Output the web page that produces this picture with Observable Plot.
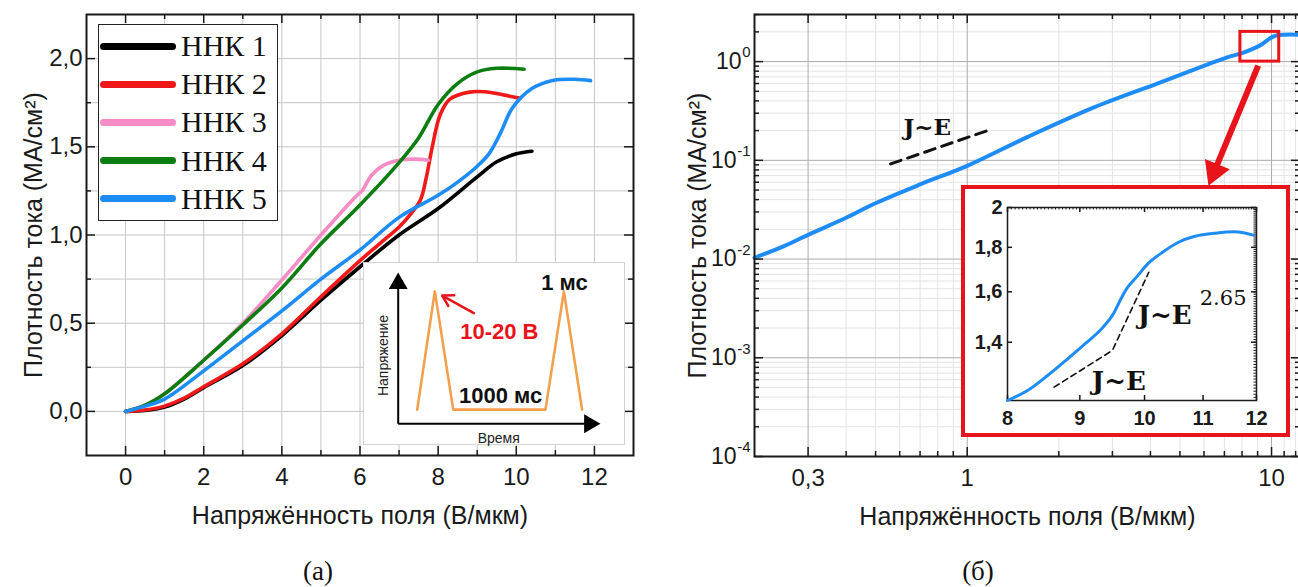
<!DOCTYPE html>
<html><head><meta charset="utf-8">
<script src="https://cdn.jsdelivr.net/npm/d3@7"></script>
<script src="https://cdn.jsdelivr.net/npm/@observablehq/plot@0.6"></script>
<style>
body{margin:0;background:#fff}
#root{position:relative;width:1298px;height:587px;overflow:hidden;background:#fff;font-family:"Liberation Sans",Arial,sans-serif;color:#1a1a1a}
</style></head><body><div id="root"></div>
<script>
// ---------- data: panel (а) ----------
const seriesNames = ["ННК 1","ННК 2","ННК 3","ННК 4","ННК 5"];
const seriesColors = ["#000000","#f01818","#f58cc4","#0c7d10","#1e8cf5"];
const nnk1E = [0, 0.5, 1, 1.5, 2, 3, 4, 5, 6, 7, 8, 9, 9.5, 10, 10.4];
const nnk1J = [0, 0.005, 0.025, 0.07, 0.135, 0.26, 0.43, 0.63, 0.82, 1.0, 1.15, 1.33, 1.415, 1.46, 1.475];
const nnk2E = [0, 0.5, 1, 1.5, 2, 3, 4, 5, 6, 6.5, 7, 7.3, 7.55, 7.7, 7.85, 8.05, 8.3, 8.8, 9.2, 9.65, 10.1];
const nnk2J = [0, 0.008, 0.03, 0.075, 0.14, 0.27, 0.44, 0.65, 0.855, 0.95, 1.045, 1.12, 1.2, 1.33, 1.5, 1.68, 1.77, 1.81, 1.812, 1.795, 1.775];
const nnk3E = [0, 0.5, 1, 2, 3, 4, 5, 5.9, 6.05, 6.3, 6.6, 7.0, 7.4, 7.75];
const nnk3J = [0, 0.035, 0.1, 0.29, 0.5, 0.745, 1.0, 1.22, 1.25, 1.34, 1.395, 1.424, 1.43, 1.424];
const nnk4E = [0, 0.5, 1, 2, 3, 4, 5, 6, 7, 7.5, 8, 8.5, 9, 9.5, 10.2];
const nnk4J = [0, 0.035, 0.1, 0.29, 0.49, 0.7, 0.95, 1.17, 1.41, 1.55, 1.74, 1.86, 1.925, 1.945, 1.94];
const nnk5E = [0, 0.5, 1, 2, 3, 4, 5, 6, 7, 8, 8.5, 9, 9.3, 9.6, 9.9, 10.4, 10.9, 11.5, 11.9];
const nnk5J = [0, 0.03, 0.07, 0.23, 0.4, 0.57, 0.75, 0.915, 1.1, 1.225, 1.3, 1.39, 1.46, 1.58, 1.72, 1.83, 1.875, 1.883, 1.875];
const fieldTicksA = [0, 2, 4, 6, 8, 10, 12];
const fieldMinorA = [1, 3, 5, 7, 9, 11];
const fieldGridA = [0,1,2,3,4,5,6,7,8,9,10,11,12];
const densTicksA = [0, 0.5, 1, 1.5, 2];
const densMinorA = [0.25, 0.75, 1.25, 1.75];
const densGridA = [0,0.25,0.5,0.75,1,1.25,1.5,1.75,2];

// pulse schematic (inset of panel а)
const pulseT = [0.94, 1.81, 2.72, 7.28, 8.19, 9.09];
const pulseV = [0, 1, 0, 0, 1, 0];
const pulseLabels = [
  {t: 8.22, v: 1.075, text: "1 мс", color: "#111"},
  {t: 5.0, v: 0.661, text: "10-20 В", color: "#e8141b"},
  {t: 5.06, v: 0.119, text: "1000 мс", color: "#111"}
];
const pulseArrow = {t1: 3.74, v1: 0.816, t2: 2.17, v2: 0.965};

// ---------- data: panel (б) ----------
const logE = [0.2, 0.25, 0.305, 0.4, 0.493, 0.7, 1, 1.575, 2.61, 4.32, 7.15, 8.0, 8.75, 9.3, 9.7, 10.0, 10.44, 11.0, 12.2];
const logJ = [0.0103, 0.0135, 0.018, 0.0262, 0.0361, 0.057, 0.088, 0.172, 0.344, 0.617, 1.105, 1.22, 1.36, 1.5, 1.65, 1.76, 1.85, 1.875, 1.875];
const fieldTicksB = [0.3, 1, 10];
const fieldMinorB = [0.4,0.5,0.6,0.7,0.8,0.9,2,3,4,5,6,7,8,9,11,12];
const decadesB = [1e-4, 1e-3, 1e-2, 1e-1, 1];
const decadeExpB = ["-4","-3","-2","-1","0"];
const densMinorB = [2e-4,3e-4,4e-4,5e-4,6e-4,7e-4,8e-4,9e-4,2e-3,3e-3,4e-3,5e-3,6e-3,7e-3,8e-3,9e-3,
  0.02,0.03,0.04,0.05,0.06,0.07,0.08,0.09,0.2,0.3,0.4,0.5,0.6,0.7,0.8,0.9,2,3];
const slopeLineE = [0.56, 1.21];
const slopeLineJ = [0.092, 0.208];
const slopeLabel = {E: 0.739, J: 0.216, text: "J~E"};
const zoomBox = {E1: 7.9, E2: 10.6, J1: 1, J2: 2};
const bigArrow = {E1: 9.04, J1: 0.91, E2: 6.49, J2: 0.0773};

// inset of panel б
const insetE = [8, 8.265, 8.54, 8.82, 9.11, 9.30, 9.49, 9.62, 9.73, 9.89, 10.06, 10.28, 10.56, 10.84, 11.20, 11.64, 11.94];
const insetJ = [1.2, 1.232, 1.282, 1.339, 1.401, 1.444, 1.503, 1.569, 1.62, 1.67, 1.725, 1.773, 1.823, 1.852, 1.868, 1.875, 1.859];
const insetTicksE = [8, 9, 10, 11, 12];
const insetTicksJ = [1.4, 1.6, 1.8, 2];
const linFitE = [8.63, 9.49];
const linFitJ = [1.243, 1.37];
const powFitE = [9.5, 10.07];
const powFitJ = [1.375, 1.685];

const SANS = "Liberation Sans, Arial, sans-serif";
const SERIF = "Liberation Serif, Times New Roman, serif";
const MATH = "DejaVu Serif, serif";
const INK = "#1a1a1a";
const RED = "#e8141b";
const xTitle = "Напряжённость поля (В/мкм)";
const yTitle = "Плотность тока (МА/см²)";
const comma = d => String(d).replace(".", ",");
const TICK_FS = 24, TITLE_FS = 25;

const root = document.getElementById("root");
function place(el, left, top, w, h, css = "") {
  const d = document.createElement("div");
  d.style.cssText = `position:absolute;left:${left}px;top:${top}px;width:${w}px;height:${h}px;${css}`;
  if (el) d.appendChild(el);
  root.appendChild(d);
  return d;
}
function xTicks(vals, len, fh, sides = ["bottom","top"], sw = 1.5) {
  const m = [];
  if (sides.includes("bottom")) m.push(Plot.tickX(vals, {x: d => d, insetTop: fh - len, stroke: INK, strokeWidth: sw}));
  if (sides.includes("top")) m.push(Plot.tickX(vals, {x: d => d, insetBottom: fh - len, stroke: INK, strokeWidth: sw}));
  return m;
}
function yTicks(vals, len, fw, sides = ["left","right"], sw = 1.5) {
  const m = [];
  if (sides.includes("left")) m.push(Plot.tickY(vals, {y: d => d, insetRight: fw - len, stroke: INK, strokeWidth: sw}));
  if (sides.includes("right")) m.push(Plot.tickY(vals, {y: d => d, insetLeft: fw - len, stroke: INK, strokeWidth: sw}));
  return m;
}
const baseStyle = {fontFamily: SANS, color: INK, background: "transparent", maxWidth: "none", overflow: "visible"};

// ---------- panel (а) ----------
const seriesE = [nnk1E, nnk2E, nnk3E, nnk4E, nnk5E];
const seriesJ = [nnk1J, nnk2J, nnk3J, nnk4J, nnk5J];
const tableA = seriesNames.flatMap((name, k) => seriesE[k].map((e, i) => ({name, E: e, J: seriesJ[k][i]})));

const A = {W: 660, H: 545, mt: 14, mb: 90, ml: 86, mr: 27};
const fhA = A.H - A.mt - A.mb, fwA = A.W - A.ml - A.mr;
const plotA = Plot.plot({
  width: A.W, height: A.H, marginTop: A.mt, marginBottom: A.mb, marginLeft: A.ml, marginRight: A.mr,
  style: {...baseStyle, fontSize: TICK_FS + "px"},
  x: {domain: [-1, 13]}, y: {domain: [-0.25, 2.25]},
  color: {domain: seriesNames, range: seriesColors},
  marks: [
    Plot.gridX({ticks: fieldGridA, stroke: "#c6c6c6", strokeOpacity: 1}),
    Plot.gridY({ticks: densGridA, stroke: "#c6c6c6", strokeOpacity: 1}),
    Plot.line(tableA, {x: "E", y: "J", z: "name", stroke: "name", strokeWidth: 3.6, curve: "catmull-rom", strokeLinecap: "round"}),
    ...xTicks(fieldTicksA, 9, fhA), ...xTicks(fieldMinorA, 5, fhA),
    ...yTicks(densTicksA, 9, fwA), ...yTicks(densMinorA, 5, fwA),
    Plot.frame({stroke: INK, strokeWidth: 2}),
    Plot.axisX({ticks: fieldTicksA, tickSize: 0, tickPadding: 12, label: null, fontSize: TICK_FS, tickFormat: comma}),
    Plot.axisY({ticks: densTicksA, tickSize: 0, tickPadding: 4, label: null, fontSize: TICK_FS, tickFormat: d => d.toFixed(1).replace(".", ",")}),
    Plot.text([xTitle], {text: d => d, frameAnchor: "bottom", textAnchor: "middle", lineAnchor: "middle", dy: 60, fontSize: TITLE_FS, fill: INK}),
    Plot.text([yTitle], {text: d => d, frameAnchor: "left", textAnchor: "middle", lineAnchor: "middle", dx: -53, rotate: -90, fontSize: TITLE_FS, fill: INK})
  ]
});
place(plotA, 0, 0, A.W, A.H);

// legend (HTML overlay)
const leg = place(null, 98, 24, 180, 197, "box-sizing:border-box;border:1.5px solid #222;background:#fff;");
seriesNames.forEach((name, i) => {
  const cy = 22.7 + i * 38.1;
  const ln = document.createElement("div");
  ln.style.cssText = `position:absolute;left:1px;top:${cy - 3.5 - 1.5}px;width:76px;height:7px;border-radius:3.5px;background:${seriesColors[i]};`;
  const tx = document.createElement("div");
  tx.style.cssText = `position:absolute;left:82px;top:${cy - 16.5}px;font:30px/30px ${SERIF};color:#111;white-space:nowrap;`;
  tx.textContent = name;
  leg.appendChild(ln); leg.appendChild(tx);
});

// inset of panel (а): pulse schematic
const pulseTable = pulseT.map((t, i) => ({t, v: pulseV[i]}));
const plotA2 = Plot.plot({
  width: 260, height: 181, marginLeft: 33.7, marginRight: 24, marginTop: 9, marginBottom: 20.7,
  style: {...baseStyle, fontSize: "14px"},
  x: {domain: [0, 10], axis: null}, y: {domain: [-0.12, 1.16], axis: null},
  marks: [
    Plot.link([{t1: 0, v1: -0.12, t2: 0, v2: 1.07}, {t1: 0, v1: -0.12, t2: 9.45, v2: -0.12}],
      {x1: "t1", y1: "v1", x2: "t2", y2: "v2", stroke: "#000", strokeWidth: 2}),
    Plot.dot([{t: 0, v: 1.067, r: 0}, {t: 9.46, v: -0.12, r: 90}],
      {x: "t", y: "v", rotate: "r", symbol: "triangle", r: 7, fill: "#000", stroke: "none"}),
    Plot.line(pulseTable, {x: "t", y: "v", stroke: "#f2a04e", strokeWidth: 2.6}),
    Plot.arrow([pulseArrow], {x1: "t1", y1: "v1", x2: "t2", y2: "v2", stroke: RED, strokeWidth: 2.5, headLength: 10}),
    Plot.text(pulseLabels, {x: "t", y: "v", text: "text", fill: "color", fontSize: 22, fontWeight: "bold"}),
    Plot.text(["Напряжение"], {text: d => d, x: () => -0.74, y: () => 0.458, rotate: -90, fontSize: 14, fill: "#222"}),
    Plot.text(["Время"], {text: d => d, x: () => 4.97, y: () => -0.247, fontSize: 14, fill: "#222"})
  ]
});
place(plotA2, 363, 262, 262, 183, "box-sizing:border-box;border:1px solid #d2d2d2;background:#fff;");

// ---------- panel (б) ----------
const B = {W: 645, H: 545, mt: 14, mb: 89, ml: 94, mr: 5};
const fhB = B.H - B.mt - B.mb, fwB = B.W - B.ml - B.mr;
const mainTable = logE.map((e, i) => ({E: e, J: logJ[i]}));
const slopeTable = slopeLineE.map((e, i) => ({E: e, J: slopeLineJ[i]}));
const decadeLabels = decadesB.map((v, i) => ({v, exp: decadeExpB[i]}));
const plotB = Plot.plot({
  width: B.W, height: B.H, marginTop: B.mt, marginBottom: B.mb, marginLeft: B.ml, marginRight: B.mr,
  style: {...baseStyle, fontSize: TICK_FS + "px"},
  x: {type: "log", domain: [0.2, 12.45]}, y: {type: "log", domain: [1e-4, 3], axis: null},
  marks: [
    Plot.gridX({ticks: fieldMinorB, stroke: "#e3e3e3", strokeOpacity: 1}),
    Plot.gridY({ticks: densMinorB, stroke: "#e3e3e3", strokeOpacity: 1}),
    Plot.gridX({ticks: fieldTicksB, stroke: "#ababab", strokeOpacity: 1}),
    Plot.gridY({ticks: decadesB, stroke: "#ababab", strokeOpacity: 1}),
    Plot.line(mainTable, {x: "E", y: "J", stroke: "#1e8cf5", strokeWidth: 4, curve: "catmull-rom"}),
    Plot.line(slopeTable, {x: "E", y: "J", stroke: "#111", strokeWidth: 3, strokeDasharray: "11,7"}),
    Plot.text([slopeLabel], {x: "E", y: "J", text: "text", fontFamily: MATH, fontWeight: "bold", fontSize: 23, fill: "#111"}),
    Plot.rect([zoomBox], {x1: "E1", x2: "E2", y1: "J1", y2: "J2", fill: "none", stroke: RED, strokeWidth: 3}),
    Plot.link([bigArrow], {x1: "E1", y1: "J1", x2: "E2", y2: "J2", stroke: RED, strokeWidth: 6}),
    Plot.dot([bigArrow], {x: "E2", y: "J2", symbol: "triangle", r: 10, rotate: 202.5, fill: RED, stroke: "none"}),
    ...xTicks(fieldTicksB, 9, fhB), ...xTicks(fieldMinorB, 5, fhB),
    ...yTicks(decadesB, 9, fwB), ...yTicks(densMinorB, 5, fwB),
    Plot.frame({stroke: INK, strokeWidth: 2}),
    Plot.axisX({ticks: fieldTicksB, tickSize: 0, tickPadding: 12, label: null, fontSize: TICK_FS, tickFormat: comma}),
    Plot.text(decadeLabels.filter(d => d.exp !== "0"), {y: "v", text: () => "10", frameAnchor: "left", textAnchor: "end", lineAnchor: "middle", dx: -18, fontSize: 23, fill: INK}),
    Plot.text(decadeLabels.filter(d => d.exp === "0"), {y: "v", text: () => "10", frameAnchor: "left", textAnchor: "end", lineAnchor: "middle", dx: -13, fontSize: 23, fill: INK}),
    Plot.text(decadeLabels, {y: "v", text: "exp", frameAnchor: "left", textAnchor: "end", lineAnchor: "middle", dx: -4, dy: -9, fontSize: 15, fill: INK}),
    Plot.text([xTitle], {text: d => d, frameAnchor: "bottom", textAnchor: "middle", lineAnchor: "middle", dy: 60, fontSize: TITLE_FS, fill: INK}),
    Plot.text([yTitle], {text: d => d, frameAnchor: "left", textAnchor: "middle", lineAnchor: "middle", dx: -57, rotate: -90, fontSize: TITLE_FS, fill: INK})
  ]
});
place(plotB, 660, 0, B.W, B.H);

// inset of panel (б)
const insetTable = insetE.map((e, i) => ({E: e, J: insetJ[i]}));
const linTable = linFitE.map((e, i) => ({E: e, J: linFitJ[i]}));
const powTable = powFitE.map((e, i) => ({E: e, J: powFitJ[i]}));
const fhI = 244 - 18 - 33, fwI = 321 - 42 - 30;
const minorIE = d3.range(8.05, 12, 0.05);
const minorIJ = d3.range(1.21, 2, 0.01);
const plotB2 = Plot.plot({
  width: 321, height: 244, marginLeft: 42, marginRight: 30, marginTop: 18, marginBottom: 33,
  style: {...baseStyle, fontSize: "20px"},
  x: {type: "log", domain: [8, 12]}, y: {type: "log", domain: [1.2, 2]},
  marks: [
    ...xTicks(minorIE, 2.5, fhI, ["top"], 1), ...yTicks(minorIJ, 2.5, fwI, ["right"], 1),
    ...xTicks(insetTicksE, 5, fhI), ...yTicks(insetTicksJ, 5, fwI),
    Plot.frame({stroke: INK, strokeWidth: 1.5}),
    Plot.line(insetTable, {x: "E", y: "J", stroke: "#1e8cf5", strokeWidth: 3, curve: "catmull-rom"}),
    Plot.line(linTable, {x: "E", y: "J", stroke: "#111", strokeWidth: 1.6, strokeDasharray: "6,4"}),
    Plot.line(powTable, {x: "E", y: "J", stroke: "#111", strokeWidth: 1.6, strokeDasharray: "6,4"}),
    Plot.text(["J~E"], {text: d => d, x: () => 9.59, y: () => 1.262, fontFamily: MATH, fontWeight: "bold", fontSize: 26, fill: "#111"}),
    Plot.text(["J~E"], {text: d => d, x: () => 9.89, y: () => 1.503, textAnchor: "start", fontFamily: MATH, fontWeight: "bold", fontSize: 26, fill: "#111"}),
    Plot.text(["2.65"], {text: d => d, x: () => 9.89, y: () => 1.503, textAnchor: "start", dx: 62, dy: -17, fontFamily: MATH, fontSize: 21, fill: "#111"}),
    Plot.axisX({ticks: insetTicksE, tickSize: 0, tickPadding: 10, label: null, fontSize: 20, fontWeight: "bold", tickFormat: comma}),
    Plot.axisY({ticks: insetTicksJ, tickSize: 0, tickPadding: 5, label: null, fontSize: 20, fontWeight: "bold", tickFormat: comma})
  ]
});
place(plotB2, 961, 185, 329, 252, `box-sizing:border-box;border:4px solid ${RED};background:#fff;`);

// captions
place(null, 298, 554, 40, 34, `font:27px/34px ${SERIF};color:#111;text-align:center;`).textContent = "(а)";
place(null, 958, 554, 40, 34, `font:27px/34px ${SERIF};color:#111;text-align:center;`).textContent = "(б)";
</script></body></html>
